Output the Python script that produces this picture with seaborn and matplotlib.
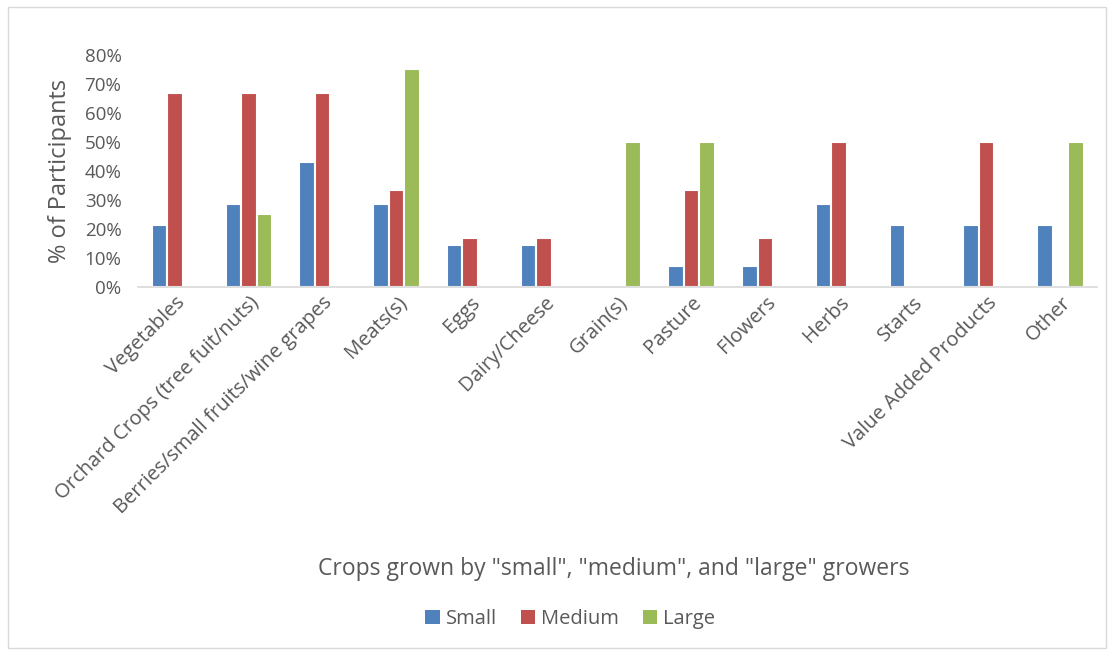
import numpy as np
import pandas as pd
import seaborn as sns
import matplotlib.pyplot as plt
from matplotlib.patches import Rectangle, Patch

sns.set_theme(style="white")
plt.rcParams["font.family"] = ["Open Sans", "DejaVu Sans"]

# dados
crops = ["Vegetables", "Orchard Crops (tree fuit/nuts)", "Berries/small fruits/wine grapes",
         "Meats(s)", "Eggs", "Dairy/Cheese", "Grain(s)", "Pasture", "Flowers", "Herbs",
         "Starts", "Value Added Products", "Other"]
small = [21.4, 28.6, 42.9, 28.6, 14.3, 14.3, 0, 7.1, 7.1, 28.6, 21.4, 21.4, 21.4]
medium = [66.7, 66.7, 66.7, 33.3, 16.7, 16.7, 0, 33.3, 16.7, 50, 0, 50, 0]
large = [0, 25, 0, 75, 0, 0, 50, 50, 0, 0, 0, 0, 50]
groups = ["Small", "Medium", "Large"]
cores = ["#4F81BD", "#C0504D", "#9BBB59"]
cinza = "#595959"

df = pd.DataFrame({
    "Crop": crops * 3,
    "Grupo": [g for g in groups for _ in crops],
    "Pct": small + medium + large,
})
df["Pct"] = df["Pct"].replace(0, np.nan) / 100

fig = plt.figure(figsize=(11.14, 6.52), dpi=100)
ax = fig.add_axes([0.124, 0.56, 0.861, 0.356])

sns.barplot(data=df, x="Crop", y="Pct", hue="Grupo", hue_order=groups,
            palette=cores, order=crops, width=0.63, ax=ax, saturation=1,
            edgecolor="white", linewidth=1.5, errorbar=None, legend=False)

ax.set_ylim(0, 0.8)
ax.set_yticks(np.arange(0, 0.81, 0.1))
ax.set_yticklabels([f"{int(round(v*100))}%" for v in np.arange(0, 0.81, 0.1)],
                   fontsize=13.5, color=cinza)
ax.tick_params(axis="y", length=0, pad=12)
ax.tick_params(axis="x", length=0, pad=4)
ax.set_xticks(range(len(crops)))
ax.set_xticklabels(crops, rotation=45, ha="right", rotation_mode="anchor",
                   fontsize=14.5, color=cinza)
ax.set_xlim(-0.5, len(crops) - 0.5)

for s in ["top", "right", "left"]:
    ax.spines[s].set_visible(False)
ax.spines["bottom"].set_color("#d9d9d9")
ax.spines["bottom"].set_linewidth(1.2)

ax.set_ylabel("% of Participants", fontsize=17, color=cinza, labelpad=9)
ax.set_xlabel("")
fig.text(0.551, 0.128, 'Crops grown by "small", "medium", and "large" growers',
         fontsize=16.5, color=cinza, ha="center", va="center")

handles = [Patch(facecolor=c, edgecolor="none") for c in cores]
fig.legend(handles, groups, loc="center", bbox_to_anchor=(0.512, 0.05), ncol=3,
           frameon=False, fontsize=14.5, labelcolor=cinza, handlelength=0.7,
           handleheight=0.7, handletextpad=0.3, columnspacing=1.2)

# moldura externa
fig.patches.append(Rectangle((0.007, 0.006), 0.986, 0.983, transform=fig.transFigure,
                             fill=False, edgecolor="#d9d9d9", linewidth=1))

fig.savefig("out.png", dpi=100)
